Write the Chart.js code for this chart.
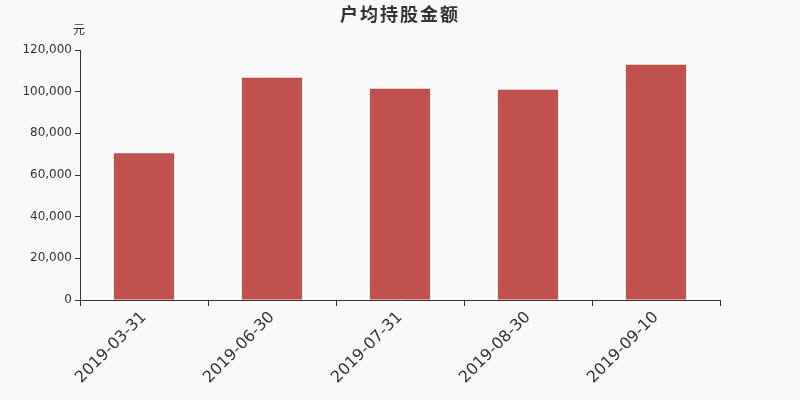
<!DOCTYPE html>
<html lang="zh">
<head>
    <meta charset="UTF-8">
    <title>户均持股金额</title>
    <script src="https://cdn.jsdelivr.net/npm/chart.js"></script>
    <style>
        html, body { margin: 0; padding: 0; background: #f9f9f9; }
        #wrap { width: 800px; height: 400px; }
    </style>
</head>
<body>
<div id="wrap"><canvas id="holdChart" width="800" height="400"></canvas></div>

<script>
    // Chart data
    const chartTitle = "户均持股金额";
    const unitLabel = "元";
    const dates = ["2019-03-31", "2019-06-30", "2019-07-31", "2019-08-30", "2019-09-10"];
    const amounts = [70400, 106700, 101400, 100950, 112950];
    const yTicks = [0, 20000, 40000, 60000, 80000, 100000, 120000];

    const fontFamily = "'DejaVu Sans', 'Noto Sans CJK SC', sans-serif";

    // Title and unit label drawn at fixed spots above the plot
    const headerPlugin = {
        id: "header",
        afterDraw(chart) {
            let ctx = chart.ctx;
            ctx.save();
            ctx.fillStyle = "#333";
            ctx.textAlign = "center";
            ctx.textBaseline = "middle";
            ctx.font = "bold 18px 'Noto Sans CJK SC', sans-serif";
            ctx.letterSpacing = "2px";
            ctx.fillText(chartTitle, 400, 14);
            ctx.letterSpacing = "0px";
            ctx.font = "12px 'Noto Sans CJK SC', sans-serif";
            ctx.fillText(unitLabel, 79, 29);
            ctx.restore();
        }
    };

    let ctx = document.getElementById("holdChart").getContext("2d");
    let holdChart = new Chart(ctx, {
        type: "bar",
        data: {
            labels: dates,
            datasets: [{
                data: amounts,
                backgroundColor: "#c0504d",
                borderWidth: 0,
                barPercentage: 0.47,
                categoryPercentage: 1.0
            }]
        },
        options: {
            responsive: false,
            animation: false,
            devicePixelRatio: 1,
            layout: { padding: { top: 50, right: 80, left: 0, bottom: 0 } },
            plugins: {
                legend: { display: false },
                tooltip: { enabled: false }
            },
            scales: {
                x: {
                    offset: true,
                    grid: {
                        offset: true,
                        drawOnChartArea: false,
                        drawTicks: true,
                        tickLength: 6,
                        color: "#333"
                    },
                    border: { color: "#333", width: 1 },
                    ticks: {
                        color: "#333",
                        font: { family: fontFamily, size: 16 },
                        maxRotation: 45,
                        minRotation: 45,
                        padding: 2
                    },
                    afterFit(scale) { scale.height = 100; }
                },
                y: {
                    min: 0,
                    max: 120000,
                    afterBuildTicks(scale) {
                        scale.ticks = yTicks.map(v => ({ value: v }));
                    },
                    grid: {
                        drawOnChartArea: false,
                        drawTicks: true,
                        tickLength: 5,
                        color: "#333"
                    },
                    border: { color: "#333", width: 1 },
                    ticks: {
                        color: "#333",
                        font: { family: fontFamily, size: 12 },
                        padding: 3,
                        callback: v => v.toLocaleString("en-US")
                    },
                    afterFit(scale) { scale.width = 80; }
                }
            }
        },
        plugins: [headerPlugin]
    });
</script>
</body>
</html>
